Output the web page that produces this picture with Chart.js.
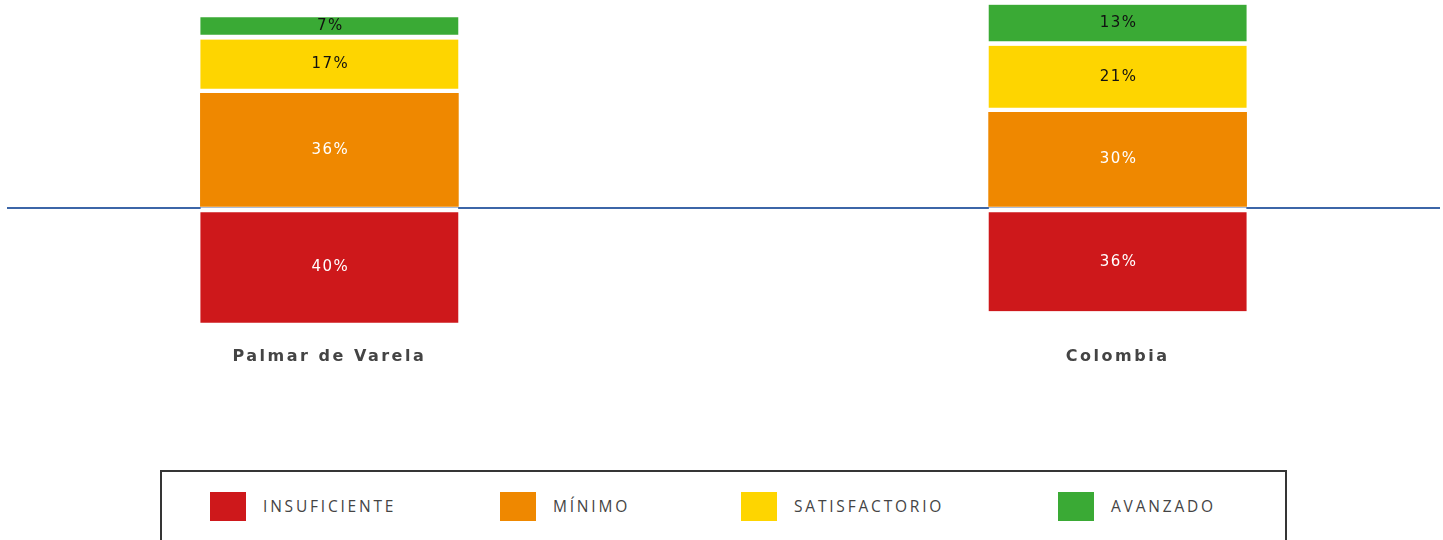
<!DOCTYPE html>
<html>
<head>
<meta charset="utf-8">
<script src="https://cdn.jsdelivr.net/npm/chart.js@4"></script>
<style>
  html, body { margin: 0; padding: 0; background: #fff; }
  body { width: 1443px; height: 540px; position: relative; overflow: hidden; }
  #wrap { position: absolute; left: 0; top: 0; width: 1443px; height: 400px; }
  #legend {
    position: absolute; left: 160px; top: 470px; width: 1127px; height: 72px;
    box-sizing: border-box; border: 2px solid #353535;
    display: grid; grid-template-columns: 290px 241px 317px auto;
    align-items: center; padding-left: 48px;
  }
  .item { display: flex; align-items: center; }
  .swatch { width: 36px; height: 29px; margin-right: 17px; }
  .item span {
    font-family: "Open Sans", sans-serif; font-size: 15.5px; letter-spacing: 2.8px; color: #444444;
  }
</style>
</head>
<body>
<div id="wrap"><canvas id="resultados"></canvas></div>
<div id="legend"></div>
<script>
const categories = ["Palmar de Varela", "Colombia"];
const insuficiente = [-40, -36];
const minimo = [36, 30];
const satisfactorio = [17, 21];
const avanzado = [7, 13];
const seriesNames = ["INSUFICIENTE", "MÍNIMO", "SATISFACTORIO", "AVANZADO"];
const seriesColors = ["#ce181b", "#ef8800", "#fed500", "#3aaa35"];
const labelColors = ["#ffffff", "#ffffff", "#111111", "#111111"];

const points = vals => vals.map((v, i) => ({ x: i, y: v }));

// writes the percentage in the middle of each block
const barLabels = {
  id: "barLabels",
  afterDatasetsDraw(chart) {
    const c = chart.ctx;
    chart.data.datasets.forEach((ds, di) => {
      const meta = chart.getDatasetMeta(di);
      const bw = ds.borderWidth || {};
      const shift = ((bw.top || 0) - (bw.bottom || 0)) / 2;
      meta.data.forEach((bar, i) => {
        const { x, y, base } = bar.getProps(["x", "y", "base"], true);
        c.save();
        c.letterSpacing = "1.5px";
        c.font = '15px "DejaVu Sans"';
        c.fillStyle = labelColors[di];
        c.textAlign = "center";
        c.textBaseline = "middle";
        c.fillText(Math.abs(ds.data[i].y) + "%", x + 1, (y + base) / 2 + shift);
        c.restore();
      });
    });
  }
};

const spacedTicks = {
  id: "spacedTicks",
  beforeDraw(chart) {
    chart.ctx.letterSpacing = "2.5px";
  }
};

const ctx = document.getElementById("resultados");

const resultados = new Chart(ctx, {
  type: "bar",
  data: {
    datasets: [
      {
        label: seriesNames[0],
        data: points(insuficiente),
        backgroundColor: seriesColors[0],
        borderColor: "#ffffff",
        borderWidth: { top: 5, bottom: 0, left: 0, right: 0 },
        borderSkipped: false,
        yAxisID: "yNeg"
      },
      {
        label: seriesNames[1],
        data: points(minimo),
        backgroundColor: seriesColors[1],
        borderWidth: 0,
        yAxisID: "y"
      },
      {
        label: seriesNames[2],
        data: points(satisfactorio),
        backgroundColor: seriesColors[2],
        borderColor: "#ffffff",
        borderWidth: { top: 0, bottom: 5, left: 0, right: 0 },
        borderSkipped: false,
        yAxisID: "y"
      },
      {
        label: seriesNames[3],
        data: points(avanzado),
        backgroundColor: seriesColors[3],
        borderColor: "#ffffff",
        borderWidth: { top: 0, bottom: 5, left: 0, right: 0 },
        borderSkipped: false,
        yAxisID: "y"
      }
    ]
  },
  options: {
    responsive: true,
    maintainAspectRatio: false,
    animation: false,
    barThickness: 258,
    layout: {
      padding: { left: 7, right: 3, top: 2, bottom: 28.4 }
    },
    plugins: {
      legend: { display: false },
      tooltip: { enabled: false }
    },
    scales: {
      x: {
        type: "linear",
        stacked: true,
        offset: false,
        min: -0.409,
        max: 1.409,
        afterBuildTicks: axis => {
          axis.ticks = categories.map((c, i) => ({ value: i }));
        },
        ticks: {
          padding: 4.7,
          color: "#444444",
          font: { family: "DejaVu Sans", size: 16, weight: "bold" },
          callback: v => categories[v]
        },
        grid: { display: false, offset: false },
        border: { display: false }
      },
      y: {
        stacked: true,
        min: -40.22,
        max: 64.83,
        afterBuildTicks: axis => {
          axis.ticks = [{ value: 0 }];
        },
        ticks: { display: false },
        grid: { color: "#3c66a8", lineWidth: 2, drawTicks: false },
        border: { display: false }
      },
      yNeg: {
        display: false,
        stacked: true,
        min: -44.27,
        max: 71.35
      }
    }
  },
  plugins: [barLabels, spacedTicks]
});

// legend in a framed box under the chart
const legend = document.getElementById("legend");
resultados.data.datasets.forEach(ds => {
  const item = document.createElement("div");
  item.className = "item";
  const sw = document.createElement("div");
  sw.className = "swatch";
  sw.style.background = ds.backgroundColor;
  const txt = document.createElement("span");
  txt.textContent = ds.label;
  item.appendChild(sw);
  item.appendChild(txt);
  legend.appendChild(item);
});
</script>
</body>
</html>
